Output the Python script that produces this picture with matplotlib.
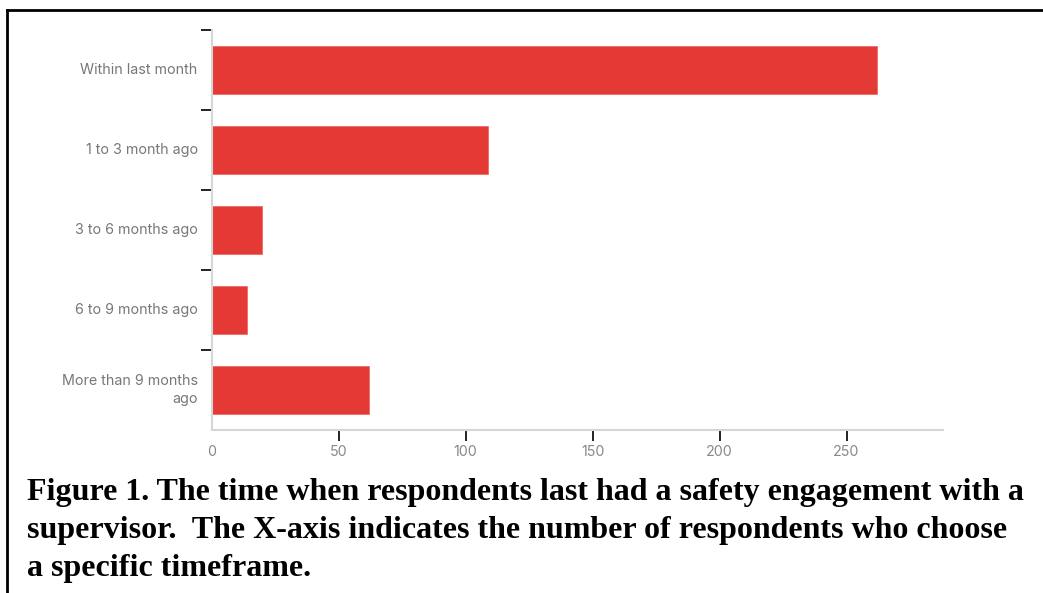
import matplotlib
matplotlib.use("Agg")
import matplotlib.pyplot as plt
from matplotlib.lines import Line2D

categories = ["Within last month", "1 to 3 month ago", "3 to 6 months ago",
              "6 to 9 months ago", "More than 9 months\nago"]
counts = [262, 109, 20, 14, 62]
x_ticks = [0, 50, 100, 150, 200, 250]
caption = ["Figure 1. The time when respondents last had a safety engagement with a",
           "supervisor.  The X-axis indicates the number of respondents who choose",
           "a specific timeframe."]

W, H = 1043, 593
fig = plt.figure(figsize=(W / 100, H / 100), dpi=100)
ax = fig.add_axes([211.7 / W, 1 - 430 / H, (943 - 211.7) / W, (430 - 30) / H])

ypos = list(range(len(categories)))
ax.barh(ypos, counts, height=0.6, color="#e53935", edgecolor="#ef6b67", linewidth=0.6)
ax.set_ylim(4.5, -0.5)
ax.set_xlim(0, 288)

# category labels (ticks sit between the bars)
ax.set_yticks([y - 0.5 for y in ypos])
ax.set_yticklabels([])
ax.tick_params(axis="y", length=8, width=1.4, color="#222222")
for y, c in zip(ypos, categories):
    ax.text(-14 / 2.54, y, c, ha="right", va="center", fontsize=10.3,
            family="Inter", color="#777777", linespacing=1.4)

ax.set_xticks(x_ticks)
ax.set_xticklabels([str(v) for v in x_ticks], fontsize=10.3, family="Inter", color="#888888")
ax.tick_params(axis="x", length=8, width=1.4, color="#222222", pad=3)
ax.xaxis.get_major_ticks()[0].tick1line.set_visible(False)

for s in ["top", "right"]:
    ax.spines[s].set_visible(False)
for s in ["left", "bottom"]:
    ax.spines[s].set_color("#d6d6d6")
    ax.spines[s].set_linewidth(1.5)

# caption
for i, line in enumerate(caption):
    fig.text(27 / W, 1 - (500 + 38 * i) / H, line, ha="left", va="baseline",
             fontsize=23, family="Liberation Serif", fontweight="bold", color="black")

# frame on left and top
fig.add_artist(Line2D([7 / W, 7 / W], [0, 1 - 10 / H], color="black", linewidth=2,
                      transform=fig.transFigure))
fig.add_artist(Line2D([7 / W, 1], [1 - 10 / H, 1 - 10 / H], color="black", linewidth=2,
                      transform=fig.transFigure))

fig.savefig("out.png", dpi=100)
